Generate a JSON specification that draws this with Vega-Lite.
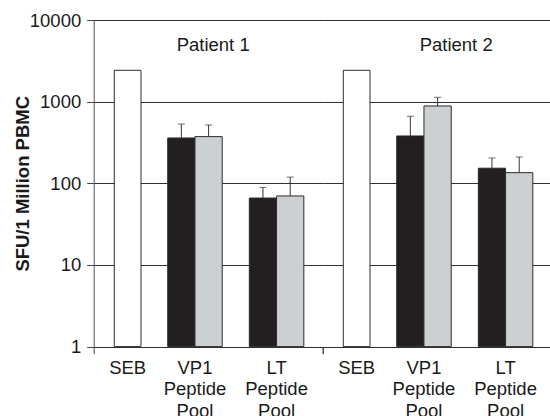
{
  "$schema": "https://vega.github.io/schema/vega-lite/v6.json",
  "background": "white",
  "padding": {"left": 12.7, "top": 11, "right": 0, "bottom": 0},
  "bounds": "flush",
  "config": {
    "font": "Liberation Sans",
    "view": {"stroke": null},
    "concat": {"spacing": 0},
    "axis": {
      "labelFont": "Liberation Sans",
      "labelFontSize": 18.5,
      "labelColor": "#1a1a1a",
      "titleFont": "Liberation Sans",
      "titleColor": "#1a1a1a"
    }
  },
  "data": {
    "values": [
      {"patient": "Patient 1", "stim": "SEB", "value": 2420},
      {"patient": "Patient 1", "stim": "VP1 Peptide Pool", "set": "A", "value": 359, "upper": 532},
      {"patient": "Patient 1", "stim": "VP1 Peptide Pool", "set": "B", "value": 373, "upper": 518},
      {"patient": "Patient 1", "stim": "LT Peptide Pool", "set": "A", "value": 66, "upper": 89},
      {"patient": "Patient 1", "stim": "LT Peptide Pool", "set": "B", "value": 70, "upper": 119},
      {"patient": "Patient 2", "stim": "SEB", "value": 2420},
      {"patient": "Patient 2", "stim": "VP1 Peptide Pool", "set": "A", "value": 380, "upper": 662},
      {"patient": "Patient 2", "stim": "VP1 Peptide Pool", "set": "B", "value": 885, "upper": 1130},
      {"patient": "Patient 2", "stim": "LT Peptide Pool", "set": "A", "value": 153, "upper": 204},
      {"patient": "Patient 2", "stim": "LT Peptide Pool", "set": "B", "value": 135, "upper": 210}
    ]
  },
  "hconcat": [
    {
      "width": 229,
      "height": 326.6,
      "transform": [{"filter": "datum.patient === 'Patient 1'"}],
      "resolve": {"scale": {"x": "independent"}},
      "layer": [
        {
          "transform": [{"filter": "datum.stim === 'SEB'"}],
          "mark": {"type": "bar", "fill": "#ffffff", "stroke": "#2b2b2b", "strokeWidth": 1},
          "encoding": {
            "x": {
              "field": "stim", "type": "nominal", "title": null,
              "scale": {"paddingInner": 0.736, "paddingOuter": 1, "align": 0.1018, "round": false},
              "axis": {"orient": "bottom", "domain": false, "ticks": false, "labelAngle": 0, "labelPadding": 11.5, "labelOverlap": false, "labelLimit": 0}
            },
            "y": {
              "field": "value", "type": "quantitative", "stack": null,
              "scale": {"type": "log", "domain": [1, 10000], "nice": false},
              "axis": {
                "title": "SFU/1 Million PBMC",
                "titleFontSize": 18.5, "titleFontWeight": "bold", "titlePadding": -2.9,
                "values": [1, 10, 100, 1000, 10000], "format": "d",
                "grid": true, "gridColor": "#2e2e2e", "gridWidth": 1,
                "tickSize": 7, "tickColor": "#444444", "domainColor": "#555555",
                "labelPadding": 6
              }
            },
            "y2": {"datum": 1}
          }
        },
        {
          "transform": [{"filter": "datum.stim !== 'SEB'"}],
          "encoding": {
            "x": {
              "field": "stim", "type": "nominal", "title": null,
              "sort": ["VP1 Peptide Pool", "LT Peptide Pool"],
              "scale": {"paddingInner": 0.332, "paddingOuter": 0.569, "align": 0.797, "round": false},
              "axis": {"orient": "bottom", "domain": false, "ticks": false, "labelAngle": 0, "labelPadding": 11.5, "labelOverlap": false, "labelLimit": 0, "labelExpr": "split(datum.label, ' ')", "labelLineHeight": 21.5}
            },
            "xOffset": {"field": "set", "type": "nominal", "sort": ["A", "B"]}
          },
          "layer": [
            {
              "mark": {"type": "bar", "stroke": "#2b2b2b", "strokeWidth": 1},
              "encoding": {
                "y": {"field": "value", "type": "quantitative", "stack": null, "scale": {"type": "log", "domain": [1, 10000], "nice": false}},
                "y2": {"datum": 1},
                "color": {"field": "set", "type": "nominal", "scale": {"domain": ["A", "B"], "range": ["#231f20", "#cdd0d2"]}, "legend": null}
              }
            },
            {
              "mark": {"type": "rule", "color": "#333333", "strokeWidth": 1},
              "encoding": {
                "y": {"field": "value", "type": "quantitative"},
                "y2": {"field": "upper"}
              }
            },
            {
              "mark": {"type": "tick", "orient": "horizontal", "color": "#333333", "size": 7, "thickness": 1},
              "encoding": {
                "y": {"field": "upper", "type": "quantitative"}
              }
            }
          ]
        },
        {
          "transform": [{"filter": "datum.stim === 'SEB'"}],
          "mark": {"type": "text", "fontSize": 18.5, "color": "#1a1a1a", "dx": 5, "baseline": "middle"},
          "encoding": {
            "x": {
              "datum": "all", "type": "nominal",
              "scale": {"paddingInner": 0, "paddingOuter": 0, "round": false},
              "axis": {"orient": "bottom", "title": null, "labels": false, "domain": false, "ticks": true, "tickBand": "extent", "tickSize": 7, "tickColor": "#444444", "grid": false}
            },
            "y": {"datum": 5000, "type": "quantitative"},
            "text": {"field": "patient"}
          }
        }
      ]
    },
    {
      "width": 229,
      "height": 326.6,
      "transform": [{"filter": "datum.patient === 'Patient 2'"}],
      "resolve": {"scale": {"x": "independent"}},
      "layer": [
        {
          "transform": [{"filter": "datum.stim === 'SEB'"}],
          "mark": {"type": "bar", "fill": "#ffffff", "stroke": "#2b2b2b", "strokeWidth": 1},
          "encoding": {
            "x": {
              "field": "stim", "type": "nominal", "title": null,
              "scale": {"paddingInner": 0.736, "paddingOuter": 1, "align": 0.1018, "round": false},
              "axis": {"orient": "bottom", "domain": false, "ticks": false, "labelAngle": 0, "labelPadding": 11.5, "labelOverlap": false, "labelLimit": 0}
            },
            "y": {
              "field": "value", "type": "quantitative", "stack": null,
              "scale": {"type": "log", "domain": [1, 10000], "nice": false},
              "axis": {
                "title": null, "labels": false, "ticks": false, "domain": false,
                "values": [1, 10, 100, 1000, 10000],
                "grid": true, "gridColor": "#2e2e2e", "gridWidth": 1
              }
            },
            "y2": {"datum": 1}
          }
        },
        {
          "transform": [{"filter": "datum.stim !== 'SEB'"}],
          "encoding": {
            "x": {
              "field": "stim", "type": "nominal", "title": null,
              "sort": ["VP1 Peptide Pool", "LT Peptide Pool"],
              "scale": {"paddingInner": 0.332, "paddingOuter": 0.569, "align": 0.797, "round": false},
              "axis": {"orient": "bottom", "domain": false, "ticks": false, "labelAngle": 0, "labelPadding": 11.5, "labelOverlap": false, "labelLimit": 0, "labelExpr": "split(datum.label, ' ')", "labelLineHeight": 21.5}
            },
            "xOffset": {"field": "set", "type": "nominal", "sort": ["A", "B"]}
          },
          "layer": [
            {
              "mark": {"type": "bar", "stroke": "#2b2b2b", "strokeWidth": 1},
              "encoding": {
                "y": {"field": "value", "type": "quantitative", "stack": null, "scale": {"type": "log", "domain": [1, 10000], "nice": false}},
                "y2": {"datum": 1},
                "color": {"field": "set", "type": "nominal", "scale": {"domain": ["A", "B"], "range": ["#231f20", "#cdd0d2"]}, "legend": null}
              }
            },
            {
              "mark": {"type": "rule", "color": "#333333", "strokeWidth": 1},
              "encoding": {
                "y": {"field": "value", "type": "quantitative"},
                "y2": {"field": "upper"}
              }
            },
            {
              "mark": {"type": "tick", "orient": "horizontal", "color": "#333333", "size": 7, "thickness": 1},
              "encoding": {
                "y": {"field": "upper", "type": "quantitative"}
              }
            }
          ]
        },
        {
          "transform": [{"filter": "datum.stim === 'SEB'"}],
          "mark": {"type": "text", "fontSize": 18.5, "color": "#1a1a1a", "dx": 19, "baseline": "middle"},
          "encoding": {
            "x": {
              "datum": "all", "type": "nominal",
              "scale": {"paddingInner": 0, "paddingOuter": 0, "round": false},
              "axis": {"orient": "bottom", "title": null, "labels": false, "domain": false, "ticks": true, "tickBand": "extent", "tickSize": 7, "tickColor": "#444444", "grid": false}
            },
            "y": {"datum": 5000, "type": "quantitative"},
            "text": {"field": "patient"}
          }
        }
      ]
    }
  ]
}
